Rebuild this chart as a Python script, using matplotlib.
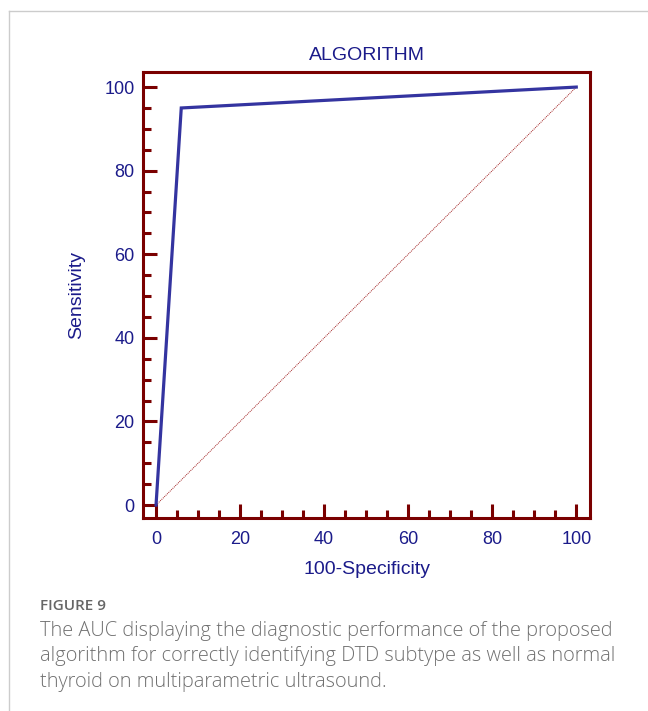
import matplotlib.pyplot as plt
from matplotlib.lines import Line2D
from matplotlib.ticker import MultipleLocator

plt.rcParams['font.family'] = ['Liberation Sans', 'DejaVu Sans']

# ROC points (100-Specificity, Sensitivity)
fpr = [0, 6, 100]
tpr = [0, 95, 100]
diag = [0, 100]

navy = '#1b1b8a'
dred = '#7a0000'

fig = plt.figure(figsize=(6.48, 7.11), dpi=100)
ax = fig.add_axes([0.2207, 0.2714, 0.690, 0.6273])

ax.plot(diag, diag, color='#a02020', lw=0.7, ls=(0, (1, 1)))
ax.plot(fpr, tpr, color='#3434a0', lw=2.3, solid_joinstyle='miter')

ax.set_xlim(-3.1, 103.3)
ax.set_ylim(-3.1, 103.6)
ax.xaxis.set_major_locator(MultipleLocator(20))
ax.xaxis.set_minor_locator(MultipleLocator(5))
ax.yaxis.set_major_locator(MultipleLocator(20))
ax.yaxis.set_minor_locator(MultipleLocator(5))
ax.tick_params(which='both', direction='in', color=dred, width=2.2,
               labelcolor=navy, labelsize=13, pad=6)
ax.tick_params(axis='x', pad=9)
ax.tick_params(which='major', length=10)
ax.tick_params(which='minor', length=5.5)
for s in ax.spines.values():
    s.set_color(dred)
    s.set_linewidth(2.2)

ax.set_title('ALGORITHM', color=navy, fontsize=14, pad=9)
ax.set_xlabel('100-Specificity', color=navy, fontsize=14, labelpad=10)
ax.set_ylabel('Sensitivity', color=navy, fontsize=14, labelpad=14)

# page frame lines
fig.add_artist(Line2D([0.0139, 1], [0.9845, 0.9845], color='#cccccc', lw=1))
fig.add_artist(Line2D([0.0139, 0.0139], [0, 0.9845], color='#cccccc', lw=1))

fig.text(0.0617, 1 - 606 / 711, 'FIGURE 9', color='#666666', fontsize=11,
         family=['Open Sans', 'DejaVu Sans'], va='center', weight='semibold')
caption = ('The AUC displaying the diagnostic performance of the proposed\n'
           'algorithm for correctly identifying DTD subtype as well as normal\n'
           'thyroid on multiparametric ultrasound.')
fig.text(0.0617, 1 - 621 / 711, caption, color='#707070', fontsize=14.4,
         family=['Open Sans', 'DejaVu Sans'], va='top', linespacing=1.36,
         weight='light')

fig.savefig('out.png', dpi=100)
